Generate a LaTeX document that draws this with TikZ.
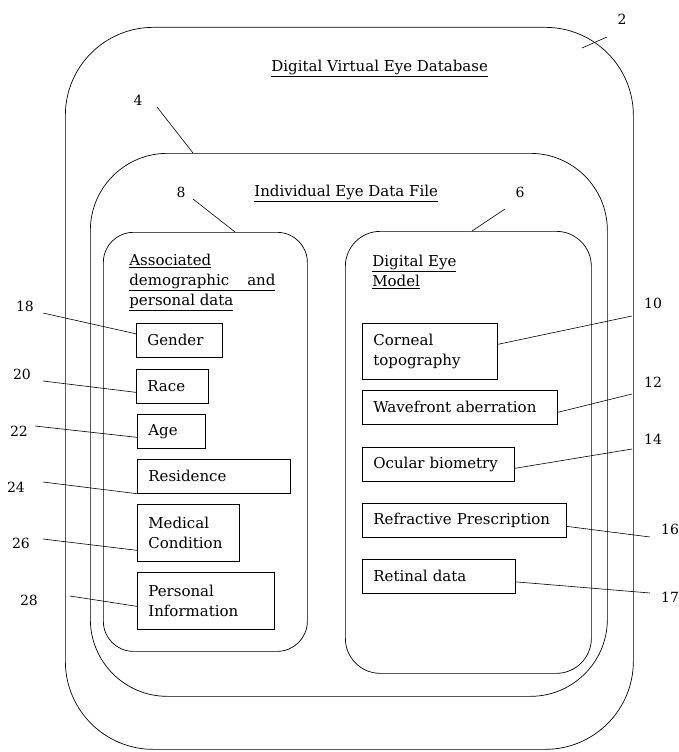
\documentclass[tikz,border=0pt]{standalone}
\usepackage{fontspec}
\setmainfont{DejaVu Serif}
\usetikzlibrary{positioning}
\tikzset{
	patent/.style={
		x=1pt, y=-1pt,
		line width=.7pt,
		every node/.style={font=\fontsize{15}{20}\selectfont}},
	region/.style={draw, rectangle, inner sep=0pt, anchor=north west},
	field/.style={draw, anchor=north west, align=left,
		inner xsep=11pt, inner ysep=0pt, minimum height=#1},
	field/.default=34pt,
	refnum/.style={font=\fontsize{14}{17}\selectfont, inner sep=1pt},
	heading/.style={anchor=base west, inner sep=0pt},
	subheading/.style={anchor=north west, inner sep=0pt, align=left},
	leader/.style={line width=.6pt}
}

\begin{document}
\begin{tikzpicture}[patent]
    \useasboundingbox (0,0) rectangle (679,752);
    % nested stores
    \node[region, rounded corners=88pt, minimum width=568pt, minimum height=722pt] (db) at (65,27) {};
    \node[region, rounded corners=77pt, minimum width=517pt, minimum height=543pt] (file) at (90,153) {};
    \node[region, rounded corners=30pt, minimum width=204pt, minimum height=419pt] (demo) at (103,232) {};
    \node[region, rounded corners=35pt, minimum width=246pt, minimum height=442pt] (model) at (345,231) {};
    \node[heading] (dbtitle) at (271,71) {\underline{Digital Virtual Eye Database}};
    \node[heading] (filetitle) at (254,196) {\underline{Individual Eye Data File}};
    \node[subheading] (demotitle) at (129,253.5)
      {\underline{Associated}\\ \underline{demographic\hspace{18pt}and}\\ \underline{personal data}};
    \node[subheading] (modeltitle) at (372,254.5) {\underline{Digital Eye}\\ \underline{Model}};
    % demographic fields
    \node[field, text width=64pt] (gender) at (136,323) {Gender};
    \node[field, text width=50pt] (race) at (136,369) {Race};
    \node[field, text width=46pt] (age) at (137,414) {Age};
    \node[field, text width=131pt] (residence) at (137,459) {Residence};
    \node[field=57pt, text width=80pt] (medical) at (137,504) {Medical\\Condition};
    \node[field=57pt, text width=115pt] (personal) at (137,572) {Personal\\Information};
    % eye model fields
    \node[field=56pt, text width=113pt] (corneal) at (362,323) {Corneal\\topography};
    \node[field, text width=173pt] (wavefront) at (362,390) {Wavefront aberration};
    \node[field, text width=130pt] (ocular) at (362,447) {Ocular biometry};
    \node[field, text width=182pt] (refraction) at (362,503) {Refractive Prescription};
    \node[field, text width=131pt] (retinal) at (362,559) {Retinal data};
    % reference numerals
    \node[refnum] (r2) at (622,19) {2};
    \node[refnum] (r4) at (138,100) {4};
    \node[refnum] (r8) at (181,192) {8};
    \node[refnum] (r6) at (520,192) {6};
    \node[refnum] (r18) at (25,306) {18};
    \node[refnum] (r20) at (22,374) {20};
    \node[refnum] (r22) at (19,431) {22};
    \node[refnum] (r24) at (16,487) {24};
    \node[refnum] (r26) at (21,543) {26};
    \node[refnum] (r28) at (29,600) {28};
    \node[refnum] (r10) at (653,303) {10};
    \node[refnum] (r12) at (653,382) {12};
    \node[refnum] (r14) at (653,439) {14};
    \node[refnum] (r16) at (670,529) {16};
    \node[refnum] (r17) at (670,597) {17};
    \coordinate (tip2) at (582,48);
    % leaders
    \draw[leader] ([shift={(-15,18)}]r2.center) -- (tip2);
    \draw[leader] ([shift={(19,7)}]r4.center) -- ([xshift=103pt]file.north west);
    \draw[leader] ([shift={(12,7)}]r8.center) -- ([xshift=132pt]demo.north west);
    \draw[leader] ([shift={(-15,17)}]r6.center) -- ([xshift=127pt]model.north west);
    \draw[leader] ([shift={(18,7)}]r18.center) -- ([yshift=6.5pt]gender.west);
    \draw[leader] ([shift={(21,7)}]r20.center) -- ([yshift=-6pt]race.west);
    \draw[leader] ([shift={(16,-5)}]r22.center) -- ([yshift=-6pt]age.west);
    \draw[leader] ([shift={(27,-5)}]r24.center) -- (residence.south west);
    \draw[leader] ([shift={(22,-4)}]r26.center) -- ([yshift=-17.5pt]medical.west);
    \draw[leader] ([shift={(41,-4)}]r28.center) -- ([yshift=-5.5pt]personal.west);
    \draw[leader] ([shift={(-21,13)}]r10.center) -- ([yshift=7pt]corneal.east);
    \draw[leader] ([shift={(-21,12)}]r12.center) -- ([yshift=-5pt]wavefront.east);
    \draw[leader] ([shift={(-21,10)}]r14.center) -- ([yshift=-4pt]ocular.east);
    \draw[leader] ([shift={(-20,8)}]r16.center) -- ([yshift=-6pt]refraction.east);
    \draw[leader] ([shift={(-20,-4)}]r17.center) -- ([yshift=-5.5pt]retinal.east);
\end{tikzpicture}
\end{document}
